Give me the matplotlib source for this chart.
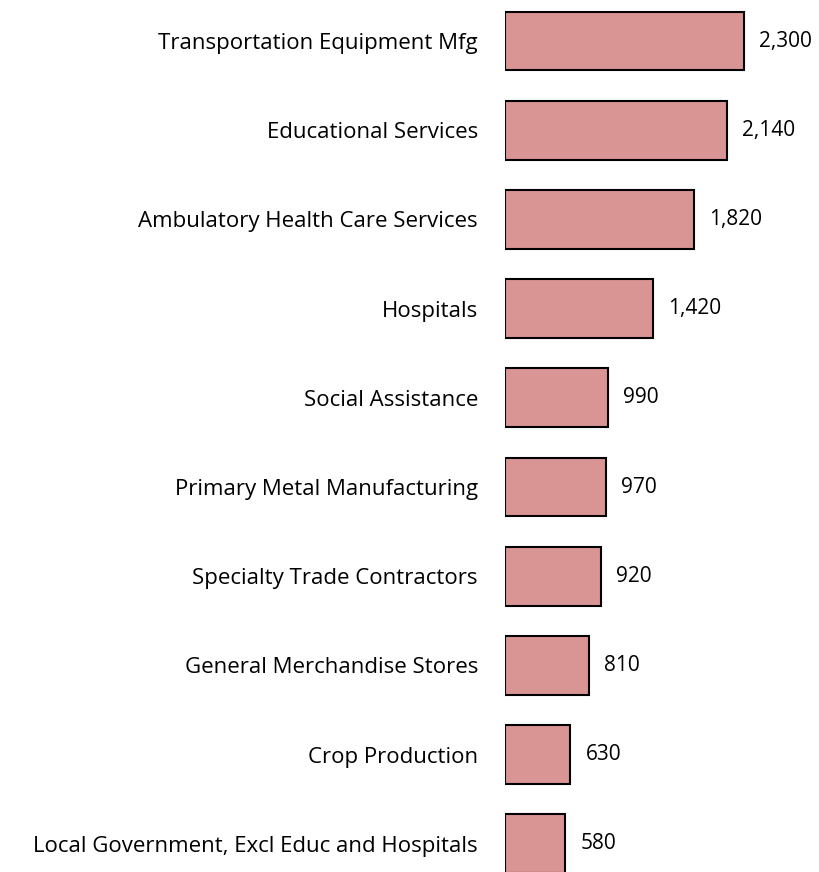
import matplotlib
matplotlib.use('Agg')
import matplotlib.pyplot as plt

industries = ['Transportation Equipment Mfg', 'Educational Services',
              'Ambulatory Health Care Services', 'Hospitals', 'Social Assistance',
              'Primary Metal Manufacturing', 'Specialty Trade Contractors',
              'General Merchandise Stores', 'Crop Production',
              'Local Government, Excl Educ and Hospitals']
values = [2300, 2140, 1820, 1420, 990, 970, 920, 810, 630, 580]

plt.rcParams['font.family'] = ['Open Sans', 'DejaVu Sans']

fig = plt.figure(figsize=(8.2, 8.72), dpi=100)
ax = fig.add_axes([505 / 820, 0, 315 / 820, 1])

pos = list(range(len(values)))
ax.barh(pos, values, height=0.66, color='#D99594', edgecolor='black', linewidth=1.5)
for p, v in zip(pos, values):
    ax.text(v + 145, p, f'{v:,}', va='center', ha='left', fontsize=15)

ax.set_xlim(0, 2300 * 315 / 239)
ax.set_ylim(9.316, -0.46)
ax.set_yticks(pos)
ax.set_yticklabels(industries, fontsize=16)
ax.tick_params(axis='y', length=0, pad=19.5)
ax.set_xticks([])
for s in ax.spines.values():
    s.set_visible(False)

fig.savefig('out.png', dpi=100)
